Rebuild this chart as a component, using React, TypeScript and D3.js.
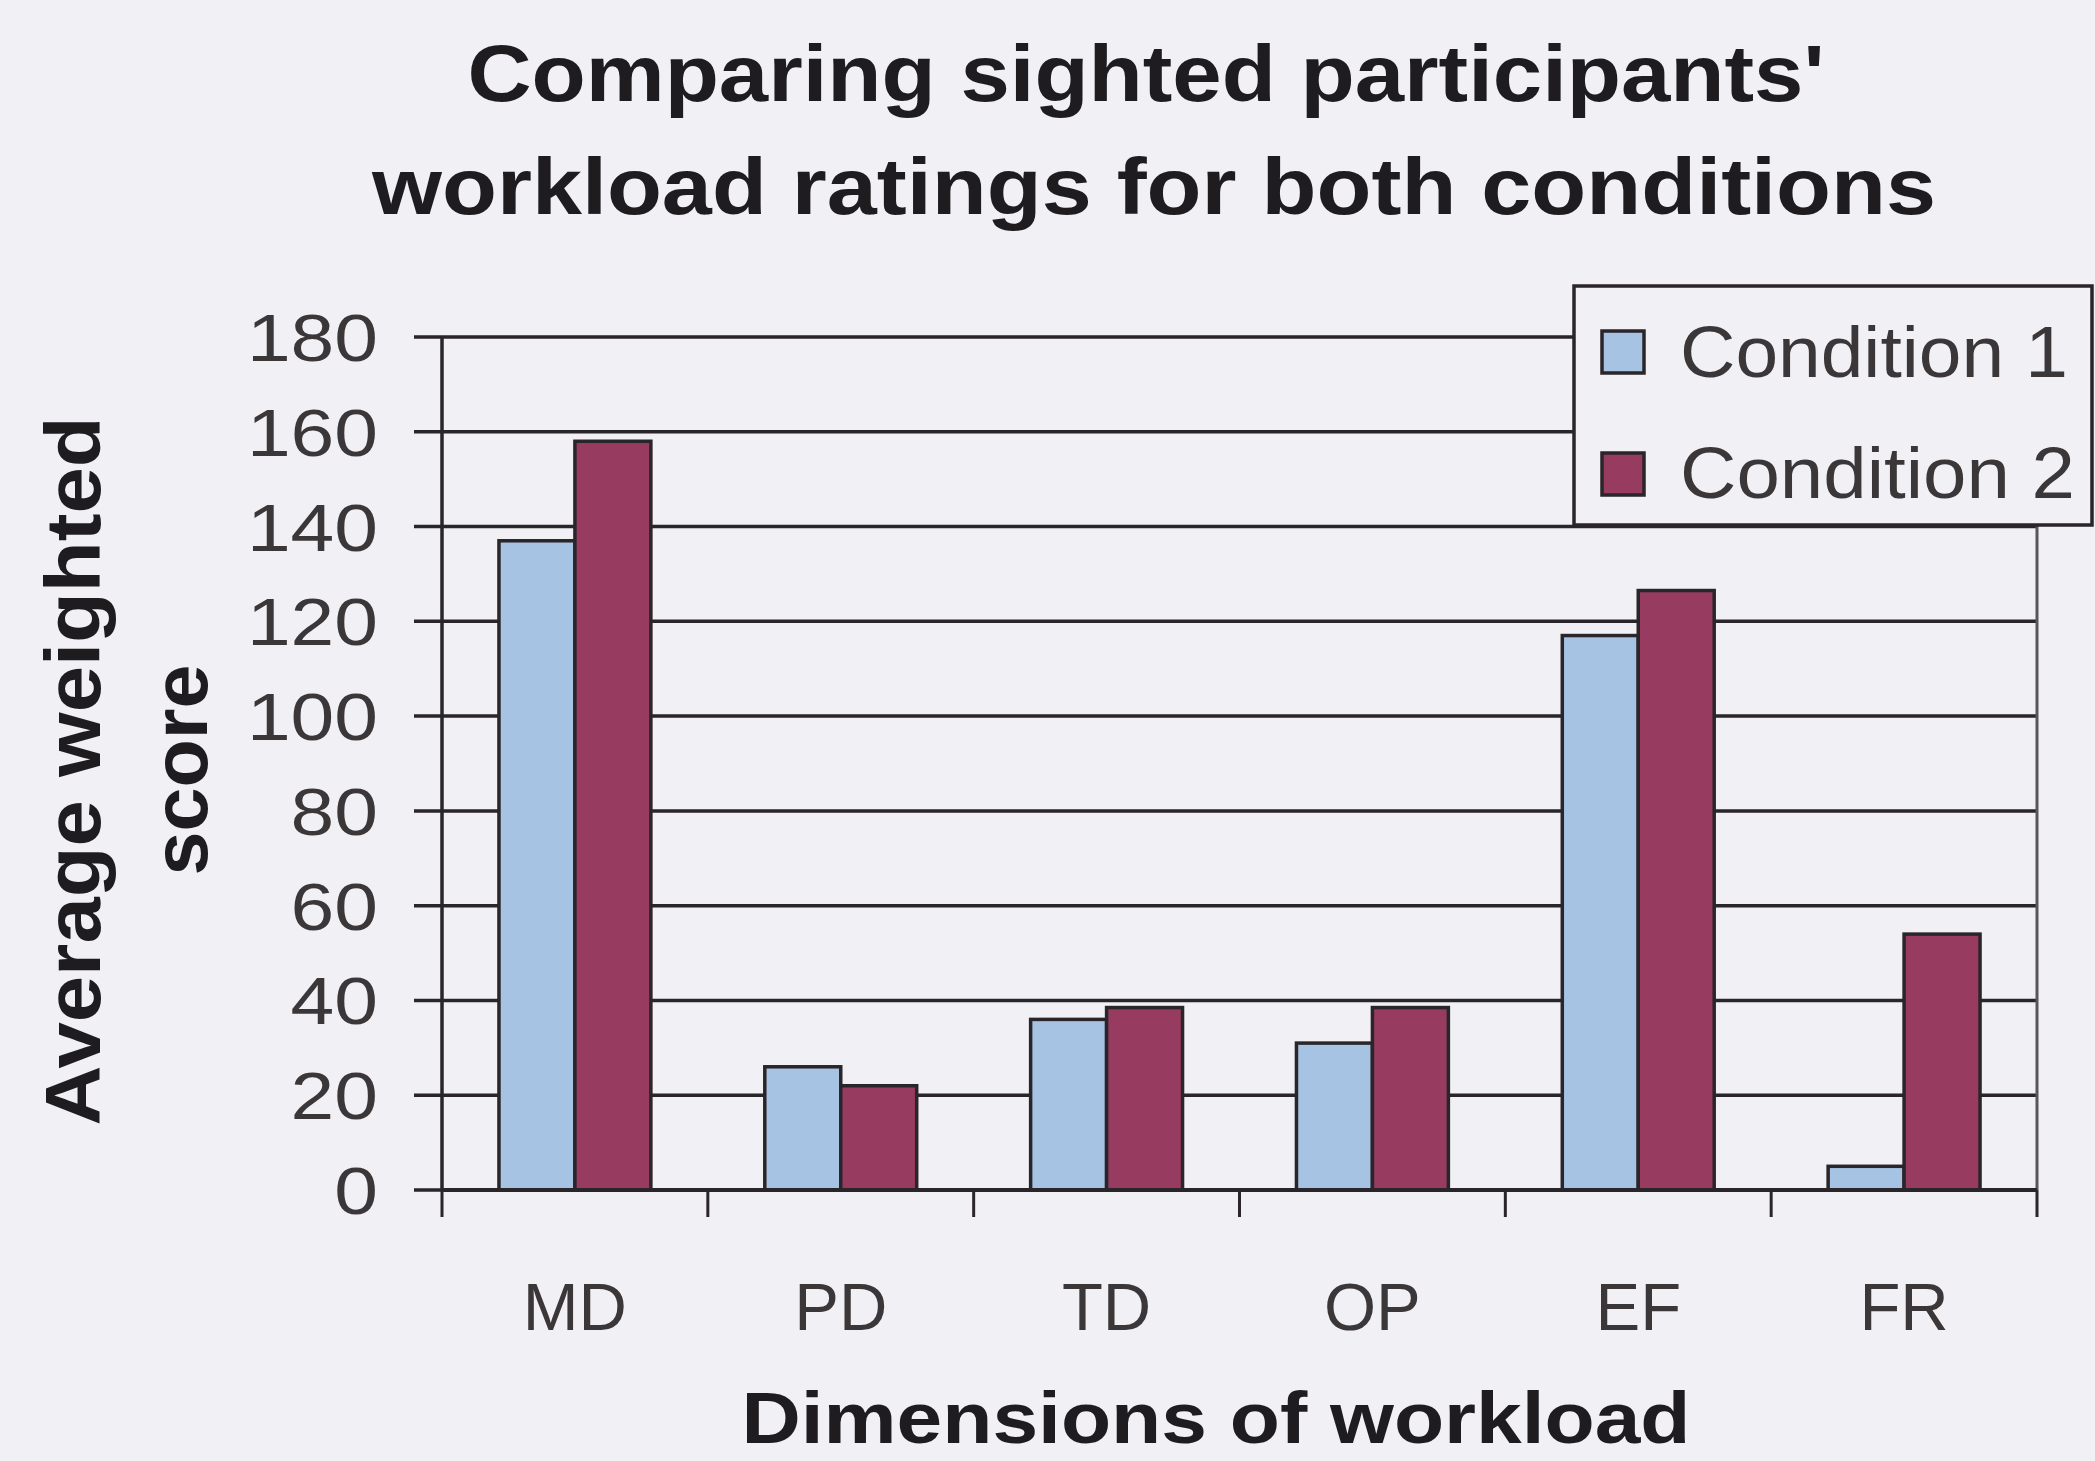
import React from "react";
import * as d3 from "d3";

const categories = ["MD", "PD", "TD", "OP", "EF", "FR"];
const condition1 = [137, 26, 36, 31, 117, 5];
const condition2 = [158, 22, 38.5, 38.5, 126.5, 54];
const seriesNames = ["Condition 1", "Condition 2"];
const yTicks = [0, 20, 40, 60, 80, 100, 120, 140, 160, 180];
const titleLines = ["Comparing sighted participants'", "workload ratings for both conditions"];
const yTitleLines = ["Average weighted", "score"];
const xTitle = "Dimensions of workload";

const W = 2095;
const H = 1461;
const colors = ["#a6c3e4", "#973c60"];
const ink = "#2a2528";
const font = "'Liberation Sans', Arial, sans-serif";

export default function App() {
  const left = 442;
  const right = 2037;
  const top = 337;
  const bottom = 1190;

  const x = d3.scaleBand<string>().domain(categories).range([left, right]).paddingInner(0).paddingOuter(0);
  const y = d3.scaleLinear().domain([0, 180]).range([bottom, top]);
  const bw = x.bandwidth() / 3.5;
  const inner = d3.scaleBand<string>().domain(seriesNames).range([0, bw * 2]);
  const series = [condition1, condition2];

  const tickLen = (s: string) => s.length * 43.7;

  return (
    <svg width={W} height={H} style={{ display: "block", position: "absolute", left: 0, top: 0 }}>
      <rect x={0} y={0} width={W} height={H} fill="#f0f0f5" />
      {/* title */}
      <text x={1146} y={101} textAnchor="middle" fontFamily={font} fontWeight="bold" fontSize={80} fill="#1e1c1e" textLength={1357} lengthAdjust="spacingAndGlyphs">{titleLines[0]}</text>
      <text x={1154} y={214} textAnchor="middle" fontFamily={font} fontWeight="bold" fontSize={80} fill="#1e1c1e" textLength={1564} lengthAdjust="spacingAndGlyphs">{titleLines[1]}</text>

      {/* gridlines */}
      {yTicks.map((t) => (
        <g key={t}>
          <line x1={left - 28} x2={right} y1={y(t)} y2={y(t)} stroke={ink} strokeWidth={3.5} />
          <text x={378} y={y(t) + 24} textAnchor="end" fontFamily={font} fontSize={66} fill="#3b3739" textLength={tickLen(String(t))} lengthAdjust="spacingAndGlyphs">{t}</text>
        </g>
      ))}

      {/* bars */}
      {categories.map((c, i) => (
        <g key={c}>
          {series.map((s, j) => {
            const bx = (x(c) as number) + bw * 0.75 + (inner(seriesNames[j]) as number);
            return (
              <rect key={j} x={bx} y={y(s[i])} width={bw} height={bottom - y(s[i])} fill={colors[j]} stroke={ink} strokeWidth={3.5} />
            );
          })}
        </g>
      ))}

      {/* axes */}
      <line x1={left} x2={left} y1={top} y2={bottom} stroke={ink} strokeWidth={3.5} />
      <line x1={right} x2={right} y1={top} y2={bottom} stroke="#5a5558" strokeWidth={3} />
      <line x1={left} x2={right} y1={bottom} y2={bottom} stroke={ink} strokeWidth={4} />
      {d3.range(categories.length + 1).map((k) => {
        const xx = left + k * x.bandwidth();
        return <line key={k} x1={xx} x2={xx} y1={bottom} y2={bottom + 27} stroke={ink} strokeWidth={3} />;
      })}
      {categories.map((c) => (
        <text key={c} x={(x(c) as number) + x.bandwidth() / 2} y={1330} textAnchor="middle" fontFamily={font} fontSize={67} fill="#3b3739">{c}</text>
      ))}

      {/* axis titles */}
      <text x={1216} y={1443} textAnchor="middle" fontFamily={font} fontWeight="bold" fontSize={72} fill="#1e1c1e" textLength={949} lengthAdjust="spacingAndGlyphs">{xTitle}</text>
      <text transform={`translate(100,771) rotate(-90)`} textAnchor="middle" fontFamily={font} fontWeight="bold" fontSize={78} fill="#1e1c1e" textLength={709} lengthAdjust="spacingAndGlyphs">{yTitleLines[0]}</text>
      <text transform={`translate(207,770) rotate(-90)`} textAnchor="middle" fontFamily={font} fontWeight="bold" fontSize={78} fill="#1e1c1e" textLength={211} lengthAdjust="spacingAndGlyphs">{yTitleLines[1]}</text>

      {/* legend */}
      <rect x={1574} y={286} width={518} height={239} fill="#f0f0f5" stroke={ink} strokeWidth={3.5} />
      {seriesNames.map((n, j) => (
        <g key={n}>
          <rect x={1602} y={j === 0 ? 331 : 453} width={42} height={42} fill={colors[j]} stroke={ink} strokeWidth={3.5} />
          <text x={1680} y={j === 0 ? 377 : 498} fontFamily={font} fontSize={72} fill="#3b3739" textLength={j === 0 ? 388 : 395} lengthAdjust="spacingAndGlyphs">{n}</text>
        </g>
      ))}
    </svg>
  );
}
